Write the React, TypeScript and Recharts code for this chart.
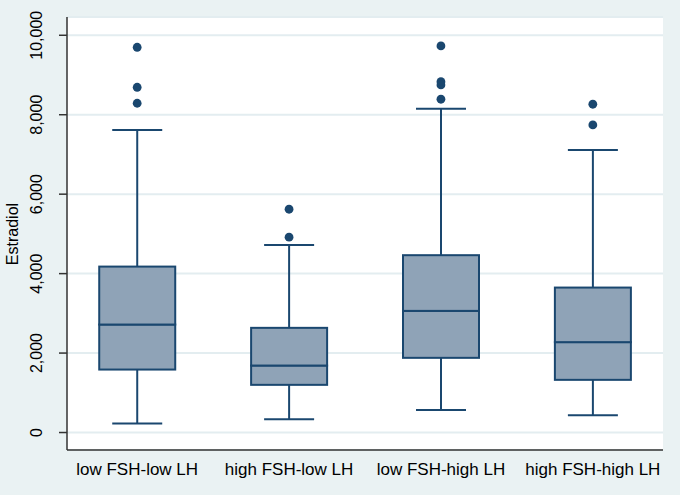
import {
  Bar,
  CartesianGrid,
  ComposedChart,
  Scatter,
  XAxis,
  YAxis,
} from 'recharts'

const categories = [
  'low FSH-low LH',
  'high FSH-low LH',
  'low FSH-high LH',
  'high FSH-high LH',
]
const mins = [226, 337, 564, 437]
const q1s = [1585, 1200, 1880, 1326]
const medians = [2718, 1686, 3062, 2275]
const q3s = [4177, 2635, 4464, 3649]
const maxs = [7617, 4723, 8153, 7114]
const outliers = [
  [9698, 8691, 8289],
  [5621, 4917],
  [9731, 8832, 8750, 8390],
  [8264, 7743],
]
const yTicks = [0, 2000, 4000, 6000, 8000, 10000]

const NAVY = '#1a476f'
const BOX_FILL = '#8fa3b7'
const BG = '#eaf2f3'
const FONT = 'Arial, "Liberation Sans", sans-serif'

const boxRows = categories.map((name, i) => ({
  x: i + 1,
  name,
  base: mins[i],
  lowerWhisker: q1s[i] - mins[i],
  lowerBox: medians[i] - q1s[i],
  upperBox: q3s[i] - medians[i],
  upperWhisker: maxs[i] - q3s[i],
}))

const outlierPoints = outliers.flatMap((vals, i) =>
  vals.map((y) => ({ x: i + 1, y })),
)

const CAP = 50

function LowerWhisker(props: any) {
  const { x, y, width, height } = props
  const cx = x + width / 2
  return (
    <g>
      <line x1={cx} x2={cx} y1={y} y2={y + height} stroke={NAVY} strokeWidth={2} />
      <line
        x1={cx - CAP / 2}
        x2={cx + CAP / 2}
        y1={y + height}
        y2={y + height}
        stroke={NAVY}
        strokeWidth={2}
      />
    </g>
  )
}

function UpperWhisker(props: any) {
  const { x, y, width, height } = props
  const cx = x + width / 2
  return (
    <g>
      <line x1={cx} x2={cx} y1={y} y2={y + height} stroke={NAVY} strokeWidth={2} />
      <line x1={cx - CAP / 2} x2={cx + CAP / 2} y1={y} y2={y} stroke={NAVY} strokeWidth={2} />
    </g>
  )
}

function BoxHalf(props: any) {
  const { x, y, width, height } = props
  return (
    <rect
      x={x}
      y={y}
      width={width}
      height={height}
      fill={BOX_FILL}
      stroke={NAVY}
      strokeWidth={2}
    />
  )
}

function YTick(props: any) {
  const { x, y, payload } = props
  const tx = x - 14.5
  return (
    <text
      x={tx}
      y={y}
      transform={`rotate(-90 ${tx} ${y})`}
      textAnchor="middle"
      fontSize={16}
      fontFamily={FONT}
      fill="#000"
    >
      {payload.value.toLocaleString('en-US')}
    </text>
  )
}

function XTick(props: any) {
  const { x, y, payload } = props
  return (
    <text
      x={x}
      y={y + 23}
      textAnchor="middle"
      fontSize={17}
      fontFamily={FONT}
      fill="#000"
    >
      {categories[payload.value - 1]}
    </text>
  )
}

function Dot(props: any) {
  return <circle cx={props.cx} cy={props.cy} r={4.4} fill={NAVY} />
}

export default function App() {
  return (
    <div
      style={{
        position: 'absolute',
        left: 0,
        top: 0,
        width: 680,
        height: 495,
        background: BG,
      }}
    >
      <ComposedChart
        width={680}
        height={495}
        data={boxRows}
        margin={{ top: 17, right: 17, bottom: 0, left: 0 }}
      >
        <CartesianGrid
          vertical={false}
          stroke="#e3edf0"
          strokeWidth={2}
          fill="#ffffff"
          fillOpacity={1}
        />
        <XAxis
          dataKey="x"
          type="number"
          domain={[0.538, 4.462]}
          ticks={[1, 2, 3, 4]}
          tick={<XTick />}
          tickLine={false}
          tickSize={0}
          height={45}
          axisLine={{ stroke: '#333', strokeWidth: 1.5 }}
          allowDataOverflow
        />
        <YAxis
          type="number"
          domain={[-440, 10460]}
          ticks={yTicks}
          tick={<YTick />}
          tickSize={8}
          width={67}
          tickLine={{ stroke: '#333', strokeWidth: 1.5 }}
          axisLine={{ stroke: '#333', strokeWidth: 1.5 }}
          allowDataOverflow
          label={{
            content: () => (
              <text
                x={18}
                y={234}
                transform="rotate(-90 18 234)"
                textAnchor="middle"
                fontSize={16}
                fontFamily={FONT}
                fill="#000"
              >
                Estradiol
              </text>
            ),
          }}
        />
        <Bar dataKey="base" stackId="box" fill="none" barSize={76} shape={() => null} isAnimationActive={false} />
        <Bar dataKey="lowerWhisker" stackId="box" barSize={76} shape={<LowerWhisker />} isAnimationActive={false} />
        <Bar dataKey="lowerBox" stackId="box" barSize={76} shape={<BoxHalf />} isAnimationActive={false} />
        <Bar dataKey="upperBox" stackId="box" barSize={76} shape={<BoxHalf />} isAnimationActive={false} />
        <Bar dataKey="upperWhisker" stackId="box" barSize={76} shape={<UpperWhisker />} isAnimationActive={false} />
        <Scatter data={outlierPoints} dataKey="y" shape={<Dot />} isAnimationActive={false} />
      </ComposedChart>
    </div>
  )
}
